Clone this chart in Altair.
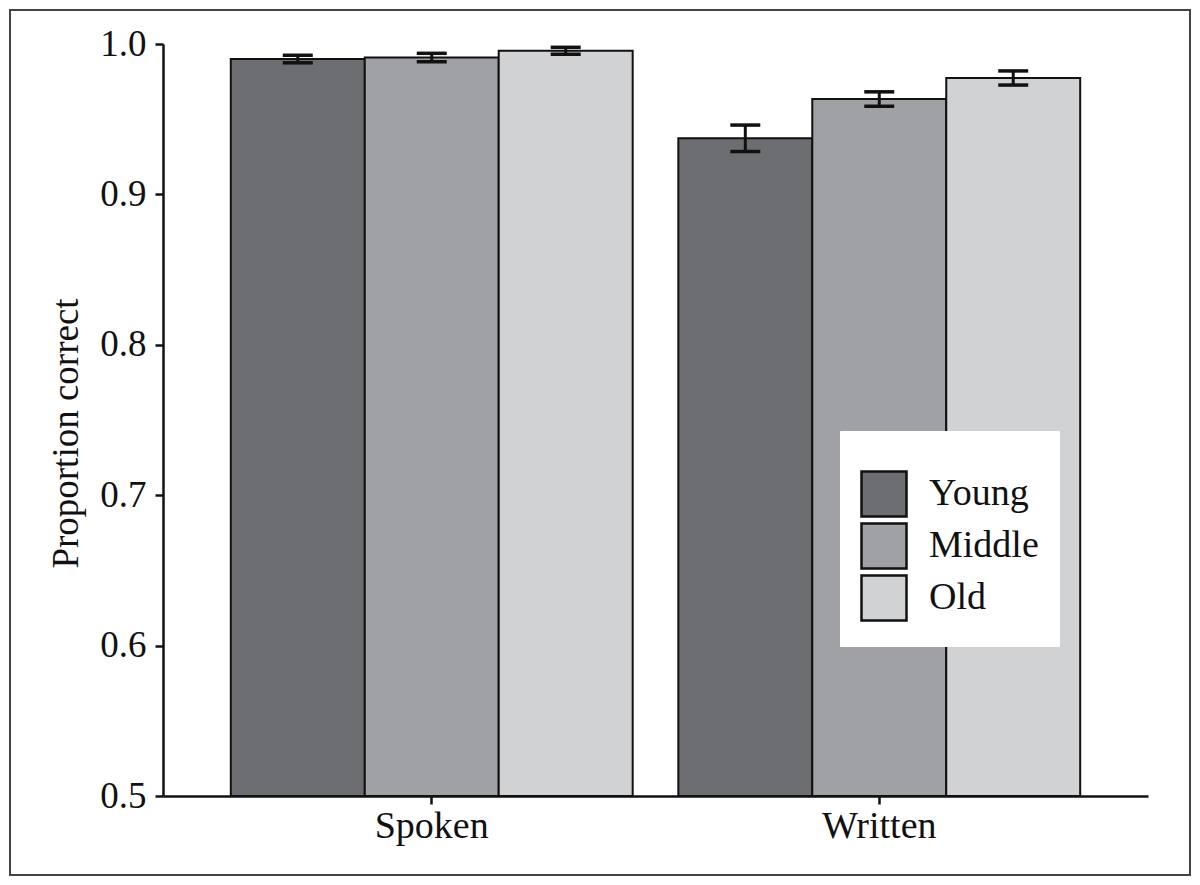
import altair as alt
import pandas as pd

modality = ["Spoken", "Spoken", "Spoken", "Written", "Written", "Written"]
age = ["Young", "Middle", "Old", "Young", "Middle", "Old"]
value = [0.990, 0.991, 0.9955, 0.9373, 0.9634, 0.9774]
err = [0.0025, 0.0028, 0.0023, 0.0088, 0.0048, 0.0047]

age_order = ["Young", "Middle", "Old"]
age_colors = ["#6d6e72", "#a0a1a5", "#d1d2d4"]

df = pd.DataFrame({"Modality": modality, "Age": age, "Value": value, "Err": err})
df["Lo"] = df["Value"] - df["Err"]
df["Hi"] = df["Value"] + df["Err"]

FONT = "Liberation Serif"
W, H = 985, 752

x_enc = alt.X("Modality:N", sort=["Spoken", "Written"], title=None,
              scale=alt.Scale(paddingInner=0.102, paddingOuter=0.1515),
              axis=alt.Axis(labelAngle=0, labelFontSize=38, labelFont=FONT, labelColor="#111",
                            tickSize=8, tickWidth=2.5, tickColor="#111", labelPadding=3,
                            domainWidth=2.5, domainColor="#111"))
xo_enc = alt.XOffset("Age:N", sort=age_order, scale=alt.Scale(domain=age_order, paddingInner=0, paddingOuter=0))
y_scale = alt.Scale(domain=[0.5, 1.0], zero=False, nice=False)

base = alt.Chart(df)

bars = base.mark_bar(stroke="#111", strokeWidth=2).encode(
    x=x_enc,
    xOffset=xo_enc,
    y=alt.Y("Value:Q", scale=y_scale, title="Proportion correct",
            axis=alt.Axis(values=[0.5, 0.6, 0.7, 0.8, 0.9, 1.0], format=".1f", grid=False,
                          labelFontSize=37, labelFont=FONT, labelColor="#111", labelPadding=9,
                          tickSize=8, tickWidth=2.5, tickColor="#111",
                          domainWidth=2.5, domainColor="#111",
                          titleFontSize=37, titleFont=FONT, titleFontWeight="normal",
                          titleColor="#111", titlePadding=14, titleY=389)),
    y2=alt.datum(0.5),
    fill=alt.Fill("Age:N", sort=age_order,
                  scale=alt.Scale(domain=age_order, range=age_colors),
                  legend=alt.Legend(title=" ", titleFontSize=14, titlePadding=5,
                                    orient="none", legendX=677, legendY=387,
                                    symbolType="square", symbolSize=2025,
                                    symbolStrokeColor="#111", symbolStrokeWidth=2.5,
                                    symbolOpacity=1,
                                    labelFontSize=38, labelFont=FONT, labelColor="#111",
                                    labelOffset=21, rowPadding=-15, padding=20,
                                    fillColor="white", strokeColor="white")),
)

whisk = base.mark_rule(color="#111", strokeWidth=3).encode(
    x=alt.X("Modality:N", sort=["Spoken", "Written"]),
    xOffset=xo_enc,
    y=alt.Y("Lo:Q", scale=y_scale),
    y2="Hi:Q",
)
cap_lo = base.mark_tick(color="#111", size=30, thickness=3.5, opacity=1).encode(
    x=alt.X("Modality:N", sort=["Spoken", "Written"]),
    xOffset=xo_enc,
    y=alt.Y("Lo:Q", scale=y_scale),
)
cap_hi = base.mark_tick(color="#111", size=30, thickness=3.5, opacity=1).encode(
    x=alt.X("Modality:N", sort=["Spoken", "Written"]),
    xOffset=xo_enc,
    y=alt.Y("Hi:Q", scale=y_scale),
)

frame = alt.Chart(pd.DataFrame({"k": [0]})).mark_rect(
    fill=None, stroke="#444", strokeWidth=2
).encode(
    x=alt.value(-153), x2=alt.value(W + 42),
    y=alt.value(-34), y2=alt.value(H + 79),
)

chart = alt.layer(frame, bars, whisk, cap_lo, cap_hi).properties(
    width=W, height=H,
    autosize=alt.AutoSizeParams(type="none"),
    padding={"left": 155, "top": 36, "right": 44, "bottom": 81},
    background="white",
).configure_view(stroke=None)

chart.save("out.html", embed_options={"renderer": "svg", "actions": False})
